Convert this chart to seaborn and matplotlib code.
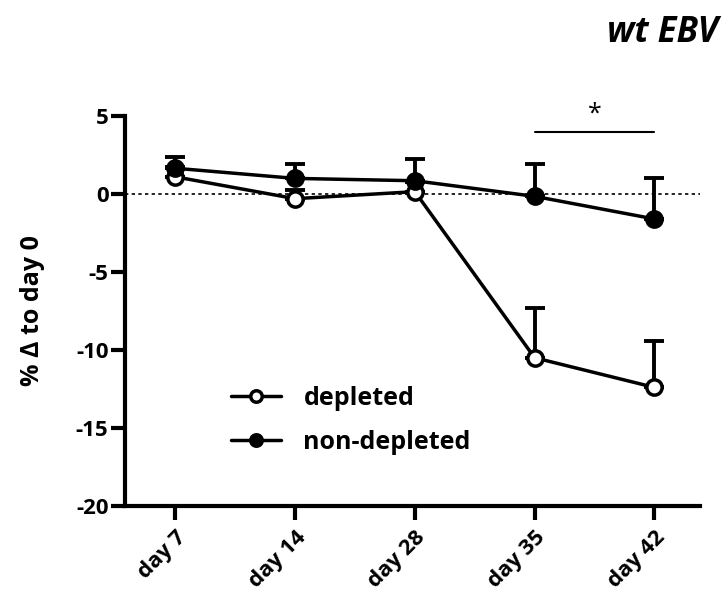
import numpy as np
import pandas as pd
import matplotlib
matplotlib.use("Agg")
import matplotlib.pyplot as plt
import seaborn as sns

days = ["day 7", "day 14", "day 28", "day 35", "day 42"]
depleted_mean = [1.1, -0.3, 0.15, -10.5, -12.4]
depleted_err = [0.6, 0.55, 0.6, 3.2, 3.0]
nondep_mean = [1.65, 1.0, 0.85, -0.15, -1.6]
nondep_err = [0.7, 0.95, 1.4, 2.05, 2.65]
yticks = [5, 0, -5, -10, -15, -20]

sns.set_theme(style="white")
plt.rcParams['font.family'] = ['Open Sans', 'DejaVu Sans']
plt.rcParams.update({'text.color': 'black', 'axes.labelcolor': 'black',
                     'xtick.color': 'black', 'ytick.color': 'black'})

fig = plt.figure(figsize=(7.23, 6.03), dpi=100)
ax = fig.add_axes([0.173, 0.161, 0.795, 0.6466])

x = np.arange(len(days))
df = pd.DataFrame({
    "x": np.concatenate([x, x]),
    "y": depleted_mean + nondep_mean,
    "group": ["depleted"] * len(days) + ["non-depleted"] * len(days),
})

# error bars (upper only)
ax.errorbar(x, depleted_mean, yerr=[np.zeros(len(x)), depleted_err], fmt='none',
            ecolor='black', elinewidth=2.8, capsize=7, capthick=2.8, zorder=2)
ax.errorbar(x, nondep_mean, yerr=[np.zeros(len(x)), nondep_err], fmt='none',
            ecolor='black', elinewidth=2.8, capsize=7, capthick=2.8, zorder=4)

sns.lineplot(data=df[df.group == "depleted"], x="x", y="y", ax=ax, color='black',
             linewidth=2.5, marker='o', markersize=11, markerfacecolor='white',
             markeredgecolor='black', markeredgewidth=2.5, label="depleted", zorder=3)
sns.lineplot(data=df[df.group == "non-depleted"], x="x", y="y", ax=ax, color='black',
             linewidth=2.5, marker='o', markersize=11, markerfacecolor='black',
             markeredgecolor='black', markeredgewidth=2.5, label="non-depleted", zorder=5)

ax.axhline(0, color='black', linestyle=(0, (2, 2)), linewidth=1.2, zorder=1)

ax.set_xlim(-0.42, 4.38)
ax.set_ylim(-20, 5)
ax.set_yticks(yticks)
ax.set_yticklabels([str(v) for v in yticks], fontsize=16, fontweight='bold')
ax.set_xticks(x)
ax.set_xticklabels(days, fontsize=16, fontweight='bold', rotation=45,
                   ha='right', rotation_mode='anchor')
ax.set_xlabel("")
ax.set_ylabel("% Δ to day 0", fontsize=18, fontweight='bold', labelpad=22)

for s in ['top', 'right']:
    ax.spines[s].set_visible(False)
for s in ['left', 'bottom']:
    ax.spines[s].set_linewidth(3)
    ax.spines[s].set_color('black')
ax.tick_params(axis='both', which='major', length=10, width=3, color='black',
               direction='out', left=True, bottom=True, pad=2)
ax.tick_params(axis='x', pad=5)

# significance bar
ax.plot([3, 4], [4.0, 4.0], color='black', linewidth=1.5)
ax.text(3.5, 4.3, "*", ha='center', va='bottom', fontsize=18)

leg = ax.legend(loc='upper left', bbox_to_anchor=(0.145, 0.365), frameon=False,
                handlelength=2.0, handletextpad=0.9, labelspacing=0.75,
                markerscale=0.75, prop={'weight': 'bold', 'size': 18})

fig.text(0.993, 0.945, "wt EBV", ha='right', va='center', fontsize=25,
         fontweight='bold', fontstyle='italic')

fig.savefig("out.png", dpi=100, facecolor='white')
